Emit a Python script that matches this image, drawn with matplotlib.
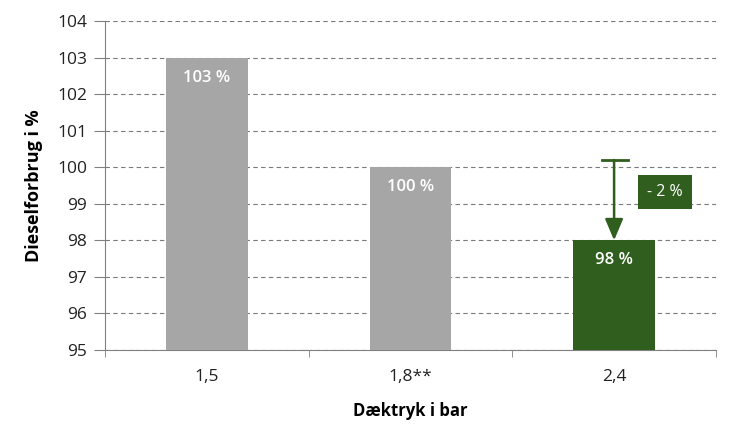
import matplotlib.pyplot as plt
import numpy as np

plt.rcParams['font.family'] = ['Open Sans', 'DejaVu Sans']

tryk = ['1,5', '1,8**', '2,4']
forbrug = [103, 100, 98]
bar_labels = ['103 %', '100 %', '98 %']
farver = ['#a6a6a6', '#a6a6a6', '#2f5e1e']
arrow_start = 100.2
diff_label = '- 2 %'

fig = plt.figure(figsize=(7.35, 4.32), dpi=100)
ax = fig.add_axes([0.143, 0.19, 0.831, 0.761])

x = np.arange(len(tryk))
ax.bar(x, forbrug, width=0.4, color=farver, zorder=3)
ax.set_ylim(95, 104)
ax.set_xlim(-0.5, 2.5)
ax.set_yticks(range(95, 105))
ax.yaxis.grid(True, linestyle=(0, (4, 3)), color='#7a7a7a', linewidth=0.8, zorder=0)

for xi, v, lab in zip(x, forbrug, bar_labels):
    ax.text(xi, v - 0.55, lab, ha='center', va='center', color='white',
            fontsize=12, fontweight='semibold', zorder=4)

# pil fra 100 ned til 98
ax.annotate('', xy=(2, forbrug[2]), xytext=(2, arrow_start),
            arrowprops=dict(arrowstyle='-|>,head_width=0.55,head_length=1.3',
                            color='#2f5e1e', lw=1.8, shrinkA=0, shrinkB=0), zorder=5)
ax.plot([1.94, 2.07], [arrow_start, arrow_start], color='#2f5e1e', lw=2, zorder=5)
ax.text(2.25, 99.33, diff_label, ha='center', va='center', color='white', fontsize=11.5,
        bbox=dict(boxstyle='square,pad=0.55', fc='#2f5e1e', ec='none'), zorder=5)

ax.set_xticks(x)
ax.set_xticklabels(tryk, fontsize=12.5, color='#222222')
ax.set_xticks([-0.5, 0.5, 1.5, 2.5], minor=True)
ax.tick_params(axis='x', which='major', length=0, pad=14)
ax.tick_params(axis='x', which='minor', length=5, color='#808080', direction='out')
ax.tick_params(axis='y', length=8, color='#808080', labelsize=12.5, labelcolor='#222222', pad=5)

ax.spines['top'].set_visible(False)
ax.spines['right'].set_visible(False)
ax.spines['left'].set_color('#808080')
ax.spines['bottom'].set_color('#808080')

ax.set_ylabel('Dieselforbrug i %', fontsize=13, fontweight='bold', labelpad=10)
ax.set_xlabel('Dæktryk i bar', fontsize=12, fontweight='bold', labelpad=12)

fig.savefig('out.png', dpi=100)
